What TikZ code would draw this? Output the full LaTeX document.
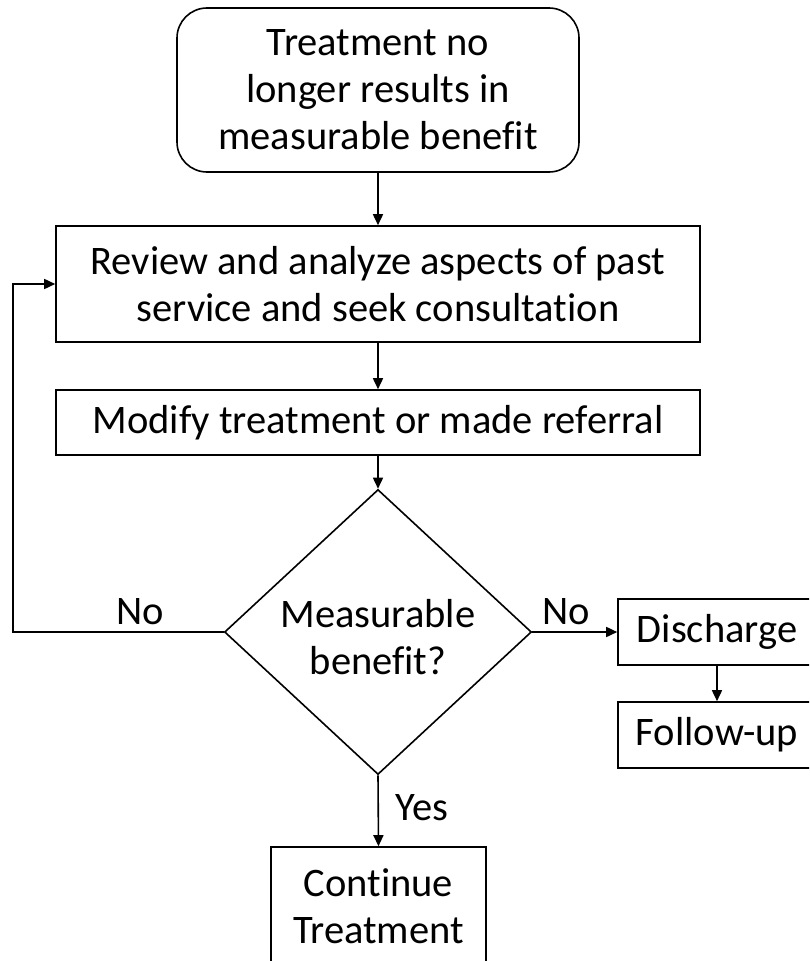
\documentclass[tikz,border=0pt]{standalone}
\usepackage{fontspec}
\setmainfont{Carlito}[Ligatures=NoCommon]
\usetikzlibrary{shapes.geometric,arrows.meta}
\begin{document}
\begin{tikzpicture}[x=1pt,y=-1pt,
  txt/.style={font=\fontsize{40.5}{47}\selectfont, align=center},
  boxn/.style={draw, line width=1.6pt, inner sep=0pt, txt},
  arr/.style={line width=1.6pt, -{Triangle[length=11pt,width=10pt]}},
  lbl/.style={txt, inner sep=0pt}]
\useasboundingbox (0,0) rectangle (809,961);
\clip (0,0) rectangle (809,961);
\node[boxn, rounded corners=30pt, minimum width=402pt, minimum height=164pt] (top) at (378,90) {Treatment no\\longer results in\\measurable benefit};
\node[boxn, minimum width=644pt, minimum height=116pt] (rev) at (378,284) {Review and analyze aspects of past\\service and seek consultation};
\node[boxn, minimum width=644pt, minimum height=65pt] (mod) at (378,422.5) {Modify treatment or made referral};
\node[draw, line width=1.6pt, diamond, minimum width=307pt, minimum height=285pt, inner sep=0pt] (dia) at (378,632) {};
\node[lbl] (dtxt) at (378,637) {Measurable\\benefit?};
\node[boxn, minimum width=198pt, minimum height=66pt] (dis) at (717,632) {Discharge};
\node[boxn, minimum width=198pt, minimum height=66pt] (fol) at (717,735) {Follow-up};
\node[boxn, minimum width=215pt, minimum height=118pt] (cont) at (378.5,906) {Continue\\Treatment};
\coordinate (lp) at (13,632);
\draw[arr] (top.south) -- (rev.north);
\draw[arr] (rev.south) -- (mod.north);
\draw[arr] (mod.south) -- (dia.north);
\draw[arr] (dia.west) -- (lp) |- (rev.west);
\draw[arr] (dia.east) -- (dis.west);
\draw[arr] (dis.south) -- (fol.north);
\draw[arr] (dia.south) -- (cont.north);
\node[lbl] (nol) at (140,612) {No};
\node[lbl] (nor) at (566,612) {No};
\node[lbl] (yes) at (422,808) {Yes};
\end{tikzpicture}
\end{document}
